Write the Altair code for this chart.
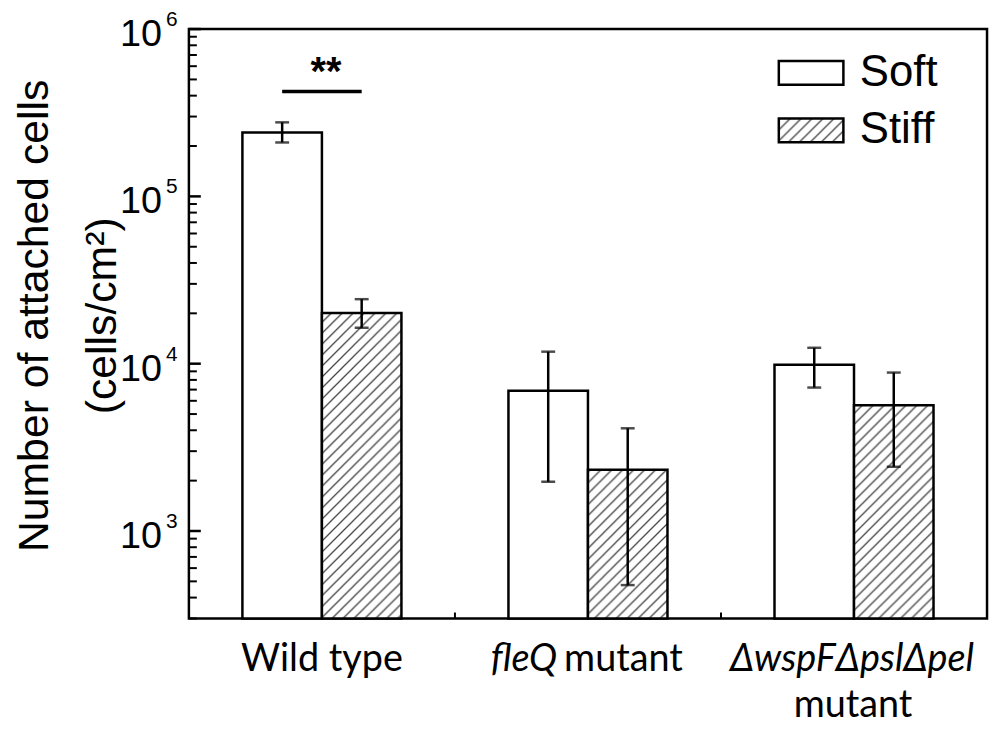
import altair as alt
import pandas as pd
import jinja2

# ---------------- data ----------------
groups = ["Wild type", "fleQ mutant", "ΔwspFΔpslΔpel mutant"]
conditions = ["Soft", "Stiff"]

soft_mean = [241000, 6900, 9850]
soft_lo = [210000, 1970, 7200]
soft_hi = [277000, 11800, 12450]

stiff_mean = [20100, 2320, 5640]
stiff_lo = [16400, 475, 2420]
stiff_hi = [24300, 4110, 8850]

major_ticks = [1000, 10000, 100000, 1000000]
major_exp = ["3", "4", "5", "6"]
minor_ticks = [300, 400, 500, 600, 700, 800, 900,
               2000, 3000, 4000, 5000, 6000, 7000, 8000, 9000,
               20000, 30000, 40000, 50000, 60000, 70000, 80000, 90000,
               200000, 300000, 400000, 500000, 600000, 700000, 800000, 900000]

sig_group = ["Wild type", "Wild type"]
sig_cond = ["Soft", "Stiff"]
sig_value = [423000, 423000]
sig_text = ["**"]

y_min, y_max = 300, 1000000

# ---------------- tables ----------------
bars = pd.DataFrame({
    "group": groups * 2,
    "condition": ["Soft"] * 3 + ["Stiff"] * 3,
    "mean": soft_mean + stiff_mean,
    "lo": soft_lo + stiff_lo,
    "hi": soft_hi + stiff_hi,
})
bars["base"] = y_min

major_df = pd.DataFrame({"v": major_ticks, "base": ["10"] * 4, "exp": major_exp})
minor_df = pd.DataFrame({"v": minor_ticks})
bound_df = pd.DataFrame({"group": groups[1:]})
sig_df = pd.DataFrame({"group": sig_group, "condition": sig_cond, "v": sig_value})
star_df = pd.DataFrame({"group": [sig_group[0]], "v": [sig_value[0]], "t": sig_text})

# ---------------- encodings ----------------
W, H = 803, 593
yscale = alt.Scale(type="log", domain=[y_min, y_max], nice=False)
yaxis = alt.Axis(
    title=["Number of attached cells", "(cells/cm²)"],
    titleFont="Liberation Sans", titleFontSize=43, titleFontWeight="normal",
    titleColor="black", titleAngle=270, titleAlign="center",
    titleBaseline="alphabetic", titleX=-142, titleY=288, titleLineHeight=68,
    labels=False, ticks=False, domain=False, grid=False,
)
xscale = alt.Scale(domain=groups, paddingInner=0, paddingOuter=0)
oscale = alt.Scale(domain=conditions, paddingInner=0, paddingOuter=0.673)


def Y(field):
    return alt.Y(field, type="quantitative", scale=yscale, axis=yaxis)


def X(**kw):
    return alt.X("group:N", scale=xscale, axis=None, **kw)


XO = alt.XOffset("condition:N", scale=oscale)

bar_layer = alt.Chart(bars).mark_bar(stroke="black", strokeWidth=2.5).encode(
    x=X(), xOffset=XO, y=Y("mean"), y2=alt.Y2("base"),
    color=alt.Color(
        "condition:N",
        scale=alt.Scale(domain=conditions, range=["white", "url(#hatch)"]),
        legend=alt.Legend(
            title=None, orient="none", legendX=603, legendY=21, padding=0,
            symbolType="M-1.5,-0.55H1.5V0.55H-1.5Z", symbolSize=1876,
            symbolStrokeColor="black", symbolStrokeWidth=2.5,
            labelFont="Liberation Sans", labelFontSize=44, labelColor="black",
            labelOffset=26, rowPadding=13,
        ),
    ),
)

err_rule = alt.Chart(bars).mark_rule(color="black", strokeWidth=2.5).encode(
    x=X(), xOffset=XO, y=Y("lo"), y2=alt.Y2("hi"))
err_lo = alt.Chart(bars).mark_tick(color="black", thickness=2.5, size=14).encode(
    x=X(), xOffset=XO, y=Y("lo"))
err_hi = alt.Chart(bars).mark_tick(color="black", thickness=2.5, size=14).encode(
    x=X(), xOffset=XO, y=Y("hi"))

major_rules = alt.Chart(major_df).mark_rule(color="black", strokeWidth=2.5).encode(
    y=Y("v"), x=alt.value(0), x2=alt.value(12))
minor_rules = alt.Chart(minor_df).mark_rule(color="black", strokeWidth=2).encode(
    y=Y("v"), x=alt.value(0), x2=alt.value(8))

lab_base = alt.Chart(major_df).mark_text(
    align="right", baseline="alphabetic", dx=-27, dy=17,
    font="Liberation Sans", fontSize=38, color="black").encode(
    y=Y("v"), x=alt.value(0), text="base:N")
lab_exp = alt.Chart(major_df).mark_text(
    align="left", baseline="alphabetic", dx=-23, dy=-3,
    font="Liberation Sans", fontSize=21, color="black").encode(
    y=Y("v"), x=alt.value(0), text="exp:N")

xticks = alt.Chart(bound_df).mark_rule(color="black", strokeWidth=2).encode(
    x=X(bandPosition=0), y=alt.value(H - 6), y2=alt.value(H))

# x labels (mixed upright / italic)
lab_font = "Lato"
xl_wt = alt.Chart(pd.DataFrame({"group": [groups[0]], "t": ["Wild type"]})).mark_text(
    align="center", baseline="alphabetic", font=lab_font, fontSize=38, color="black").encode(
    x=X(), y=alt.value(646), text="t:N")
xl_fleq_i = alt.Chart(pd.DataFrame({"group": [groups[1]], "t": ["fleQ"]})).mark_text(
    align="right", baseline="alphabetic", font=lab_font, fontStyle="italic", fontSize=38,
    color="black", dx=-31).encode(x=X(), y=alt.value(646), text="t:N")
xl_fleq_n = alt.Chart(pd.DataFrame({"group": [groups[1]], "t": ["mutant"]})).mark_text(
    align="left", baseline="alphabetic", font=lab_font, fontSize=38,
    color="black", dx=-24).encode(x=X(), y=alt.value(646), text="t:N")
xl_wsp_i = alt.Chart(pd.DataFrame({"group": [groups[2]], "t": ["ΔwspFΔpslΔpel"]})).mark_text(
    align="center", baseline="alphabetic", font=lab_font, fontStyle="italic", fontSize=38,
    color="black", dx=-2).encode(x=X(), y=alt.value(646), text="t:N")
xl_wsp_n = alt.Chart(pd.DataFrame({"group": [groups[2]], "t": ["mutant"]})).mark_text(
    align="center", baseline="alphabetic", font=lab_font, fontSize=38,
    color="black", dx=-1).encode(x=X(), y=alt.value(692), text="t:N")

sig_line = alt.Chart(sig_df).mark_line(color="black", strokeWidth=3.5).encode(
    x=X(), xOffset=XO, y=Y("v"))
sig_star = alt.Chart(star_df).mark_text(
    align="center", baseline="alphabetic", font="Liberation Sans", fontWeight="bold",
    fontSize=40, color="black", dx=4, dy=-7).encode(x=X(), y=Y("v"), text="t:N")

chart = alt.layer(
    bar_layer, err_rule, err_lo, err_hi,
    major_rules, minor_rules, lab_base, lab_exp, xticks,
    xl_wt, xl_fleq_i, xl_fleq_n, xl_wsp_i, xl_wsp_n,
    sig_line, sig_star,
).properties(
    width=W, height=H,
    padding={"left": 182, "top": 19, "right": 5, "bottom": 110},
    autosize=alt.AutoSizeParams(type="none"),
).configure(
    background="white",
    view=alt.ViewConfig(stroke="black", strokeWidth=2.5),
)

# page template identical to the standard one, plus an SVG hatch pattern definition
TEMPLATE = jinja2.Template("""<!DOCTYPE html>
<html>
<head>
  <style>
    #{{ output_div }}.vega-embed { width: 100%; display: flex; }
    #{{ output_div }}.vega-embed details,
    #{{ output_div }}.vega-embed details summary { position: relative; }
  </style>
  <script type="text/javascript" src="{{ base_url }}/vega@{{ vega_version }}"></script>
  <script type="text/javascript" src="{{ base_url }}/vega-lite@{{ vegalite_version }}"></script>
  <script type="text/javascript" src="{{ base_url }}/vega-embed@{{ vegaembed_version }}"></script>
</head>
<body>
  <svg width="0" height="0" style="position:absolute">
    <defs>
      <pattern id="hatch" patternUnits="userSpaceOnUse" width="11" height="11">
        <rect x="0" y="0" width="11" height="11" fill="white"></rect>
        <path d="M0,11 L11,0 M-2,2 L2,-2 M9,13 L13,9" stroke="#444" stroke-width="1.3"></path>
      </pattern>
    </defs>
  </svg>
  <div id="{{ output_div }}"></div>
  <script>
    (function(vegaEmbed) {
      var spec = {{ spec }};
      var embedOpt = {{ embed_options }};
      function showError(el, error){
          el.innerHTML = ('<div style="color:red;"><p>JavaScript Error: ' + error.message + '</p></div>');
          throw error;
      }
      const el = document.getElementById('{{ output_div }}');
      vegaEmbed("#{{ output_div }}", spec, embedOpt).catch(error => showError(el, error));
    })(vegaEmbed);
  </script>
</body>
</html>
""")

try:
    chart.save("out.html", embed_options={"renderer": "svg", "actions": False}, template=TEMPLATE)
except TypeError:
    chart.save("out.html", embed_options={"renderer": "svg", "actions": False})
